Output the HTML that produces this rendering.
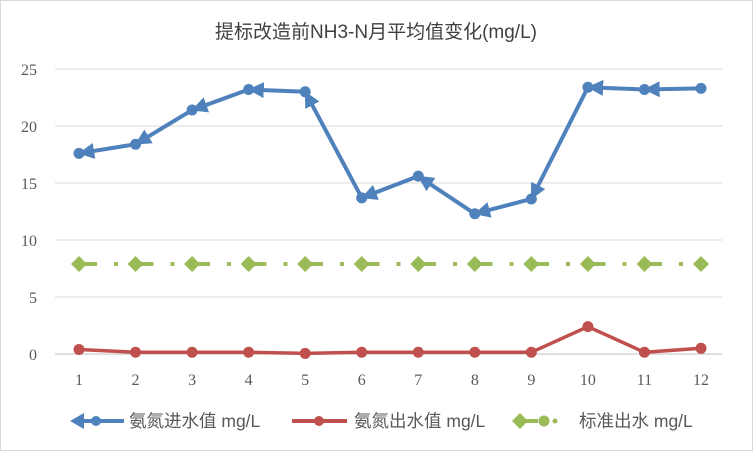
<!DOCTYPE html>
<html><head><meta charset="utf-8"><style>
body{margin:0;background:#fff}
svg{display:block;font-family:"Liberation Sans","Noto Sans CJK SC",sans-serif}
</style></head><body>
<svg id="chart" width="753" height="451" viewBox="0 0 753 451">
<defs><marker id="arr" viewBox="0 0 10 10" refX="2" refY="5" markerWidth="4" markerHeight="4" orient="auto" markerUnits="strokeWidth"><path d="M0,0 L10,5 L0,10 z" fill="#4f81bd"/></marker></defs>
<rect x="0.5" y="0.5" width="752" height="450" fill="#fff" stroke="#d9d9d9"/>
<text x="376" y="38" text-anchor="middle" font-size="19" fill="#404040">提标改造前NH3-N月平均值变化(mg/L)</text>
<g id="grid"></g><g id="series"></g>
<g font-size="17.5" fill="#595959">
<g><line x1="74" y1="421" x2="124" y2="421" stroke="#4f81bd" stroke-width="4"/><path d="M70,421 L84,413 L84,429 z" fill="#4f81bd"/><circle cx="96" cy="421" r="5" fill="#4f81bd"/><text x="129" y="427">氨氮进水值 mg/L</text></g>
<g><line x1="292" y1="421" x2="347" y2="421" stroke="#c0504d" stroke-width="4"/><circle cx="319" cy="421" r="5" fill="#c0504d"/><text x="354" y="427">氨氮出水值 mg/L</text></g>
<g><line x1="520" y1="421" x2="538" y2="421" stroke="#9bbb59" stroke-width="4"/><path d="M520,413 L528,421 L520,429 L512,421 z" fill="#9bbb59"/><circle cx="544" cy="421" r="5.5" fill="#9bbb59"/><circle cx="555" cy="421" r="2.5" fill="#9bbb59"/><text x="579" y="427">标准出水 mg/L</text></g>
</g>
</svg>
<script>
const categories=["1","2","3","4","5","6","7","8","9","10","11","12"];
const inflow=[17.6,18.4,21.4,23.2,23.0,13.7,15.6,12.3,13.6,23.4,23.2,23.3];
const outflow=[0.4,0.15,0.15,0.15,0.05,0.15,0.15,0.15,0.15,2.4,0.15,0.5];
const standard=[7.9,7.9,7.9,7.9,7.9,7.9,7.9,7.9,7.9,7.9,7.9,7.9];
const yTicks=[0,5,10,15,20,25];
const NS="http://www.w3.org/2000/svg";
const xs=i=>79+i*(701-79)/11;
const ys=v=>354-v*(354-69)/25;
function mk(tag,attrs,parent,txt){const e=document.createElementNS(NS,tag);for(const k in attrs)e.setAttribute(k,attrs[k]);if(txt!==undefined)e.textContent=txt;parent.appendChild(e);return e;}
const grid=document.getElementById('grid'),ser=document.getElementById('series');
yTicks.forEach(t=>{
 const l=mk('line',{x1:55,x2:722,y1:ys(t),y2:ys(t),stroke:t===0?'#bfbfbf':'#d9d9d9','stroke-width':1},grid);
 
 
 const tx=mk('text',{x:37,y:ys(t)+6,'text-anchor':'end','font-size':16,fill:'#595959','font-family':'"Liberation Serif",serif'},grid,String(t));
 
 
});
categories.forEach((c,i)=>{
 const tx=mk('text',{x:xs(i),y:385,'text-anchor':'middle','font-size':16,fill:'#595959','font-family':'"Liberation Serif",serif'},grid,c);
 
 
});
const sp=mk('polyline',{points:standard.map((v,i)=>xs(i)+','+ys(v)).join(' '),fill:'none',stroke:'#9bbb59','stroke-width':4,'stroke-dasharray':'18 17 4 17.5'},ser);


standard.forEach((v,i)=>{
 const x=xs(i),y=ys(v);
 const d=mk('path',{d:`M${x},${y-8} L${x+8},${y} L${x},${y+8} L${x-8},${y} z`,fill:'#9bbb59'},ser);
 
 
});
const op=mk('polyline',{points:outflow.map((v,i)=>xs(i)+','+ys(v)).join(' '),fill:'none',stroke:'#c0504d','stroke-width':3.5},ser);


outflow.forEach((v,i)=>{
 const c=mk('circle',{cx:xs(i),cy:ys(v),r:5.5,fill:'#c0504d'},ser);
 
 
});
for(let i=0;i<inflow.length-1;i++){
 const x1=xs(i+1),y1=ys(inflow[i+1]),x0=xs(i),y0=ys(inflow[i]);
 const dx=x0-x1,dy=y0-y1,L=Math.hypot(dx,dy),k=(L-12)/L;
 const seg=mk('line',{x1:x1,y1:y1,x2:x1+dx*k,y2:y1+dy*k,stroke:'#4f81bd','stroke-width':4,'marker-end':'url(#arr)'},ser);
 
 
}
inflow.forEach((v,i)=>{
 const c=mk('circle',{cx:xs(i),cy:ys(v),r:5.5,fill:'#4f81bd'},ser);
 
 
});
</script>
</body></html>
